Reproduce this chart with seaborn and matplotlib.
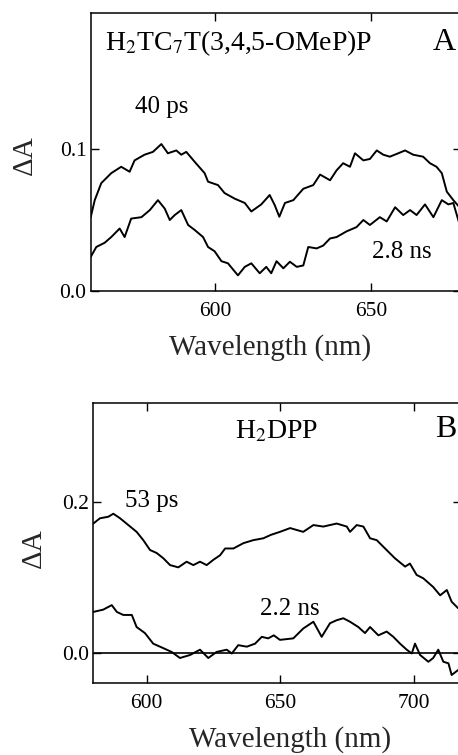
import pandas as pd
import matplotlib
matplotlib.use('Agg')
import matplotlib.pyplot as plt
import seaborn as sns

# Panel A: H2TC7T(3,4,5-OMeP)P, 40 ps and 2.8 ns spectra
wl_a_40ps = [560, 561.3, 563.4, 566.6, 569.8, 572.5, 574.1, 577.3, 580, 582.7,
             584.8, 587.5, 589.1, 590.7, 593.4, 596.6, 597.7, 600.9, 603, 606.3,
             609.5, 611.6, 614.8, 617.5, 619.1, 620.6, 622.4, 625.1, 628.3, 631.5,
             633.7, 636.9, 639, 641.1, 643.3, 644.9, 647.6, 649.7, 651.9, 654,
             656.1, 658.8, 661, 663.6, 666.8, 669, 671.1, 672.8, 674.4, 676.5, 678.5]
da_a_40ps = [0.052, 0.064, 0.076, 0.083, 0.0875, 0.084, 0.092, 0.096, 0.098, 0.1035,
             0.097, 0.099, 0.096, 0.098, 0.091, 0.083, 0.077, 0.0746, 0.069, 0.065,
             0.062, 0.056, 0.061, 0.0676, 0.0606, 0.0523, 0.062, 0.064, 0.072, 0.0746,
             0.082, 0.078, 0.085, 0.090, 0.0875, 0.097, 0.092, 0.093, 0.099, 0.096,
             0.0946, 0.097, 0.099, 0.096, 0.0946, 0.090, 0.0875, 0.083, 0.070, 0.064, 0.059]

wl_a_28ns = [560, 561.8, 564.5, 566.6, 569.3, 570.9, 573, 576.3, 579, 581.6,
             583.8, 585.4, 587, 589.1, 591.3, 593.4, 596.1, 597.7, 599.8, 602,
             604.1, 607.3, 609.5, 611.6, 614.3, 616.4, 618, 619.7, 621.9, 624,
             626.2, 628.3, 629.9, 632.6, 634.7, 636.9, 639, 642.2, 645.4, 647.6,
             649.7, 652.9, 655.1, 657.8, 660.4, 662.6, 664.7, 667.4, 670.1, 672.8,
             674.9, 676.5, 678.5]
da_a_28ns = [0.024, 0.031, 0.034, 0.038, 0.044, 0.038, 0.051, 0.052, 0.057, 0.064,
             0.058, 0.050, 0.0535, 0.057, 0.0465, 0.043, 0.038, 0.031, 0.028, 0.021,
             0.0195, 0.011, 0.017, 0.0195, 0.0125, 0.017, 0.0125, 0.021, 0.016, 0.0206,
             0.017, 0.018, 0.031, 0.030, 0.032, 0.037, 0.038, 0.042, 0.045, 0.050,
             0.0465, 0.052, 0.049, 0.059, 0.0535, 0.057, 0.0535, 0.061, 0.052, 0.064,
             0.061, 0.062, 0.047]

# Panel B: H2DPP, 53 ps and 2.2 ns spectra
wl_b_53ps = [580, 582.5, 585.6, 587.5, 590, 593.1, 596.2, 598.7, 601.2, 603.7,
             606.2, 608.7, 611.8, 614.9, 617.4, 619.9, 622.4, 624.9, 627.4, 629.3,
             632.4, 636.1, 639.8, 643.6, 646.4, 649.8, 653.6, 658.5, 662.3, 666,
             671, 674.8, 676, 678.5, 681, 683.5, 686, 689.1, 692.8, 696.6,
             698.4, 700.9, 703.4, 707.1, 709.7, 712.2, 714, 716.4, 718]
da_b_53ps = [0.171, 0.178, 0.180, 0.184, 0.178, 0.169, 0.160, 0.149, 0.136, 0.132,
             0.125, 0.116, 0.113, 0.1205, 0.116, 0.1205, 0.116, 0.123, 0.129, 0.138,
             0.138, 0.145, 0.149, 0.1515, 0.156, 0.160, 0.165, 0.160, 0.169, 0.167,
             0.171, 0.167, 0.160, 0.169, 0.167, 0.1515, 0.149, 0.138, 0.125, 0.114,
             0.118, 0.103, 0.0985, 0.087, 0.076, 0.083, 0.0675, 0.059, 0.056]

wl_b_22ns = [580, 583.7, 586.9, 588.8, 591.2, 594.4, 596.2, 599.3, 602.4, 606.2,
             609.3, 612.4, 616.2, 619.9, 623, 626.1, 629.9, 631.8, 634.2, 637.4,
             640.5, 643, 645.4, 647.5, 649.8, 654.8, 658.5, 662.3, 665.4, 668.5,
             671, 673.5, 676, 679.1, 681.6, 683.5, 686.6, 689.7, 692.2, 694.7,
             697.2, 699.1, 700.3, 702.2, 705.3, 707.1, 709, 710.9, 712.8, 714, 716.4, 718]
da_b_22ns = [0.054, 0.057, 0.063, 0.054, 0.050, 0.050, 0.034, 0.026, 0.012, 0.006,
             0.001, -0.007, -0.003, 0.004, -0.007, 0.001, 0.004, -0.001, 0.010, 0.008,
             0.012, 0.021, 0.019, 0.023, 0.017, 0.019, 0.032, 0.041, 0.021, 0.039,
             0.043, 0.0456, 0.041, 0.034, 0.026, 0.034, 0.023, 0.028, 0.021, 0.012,
             0.004, -0.001, 0.012, -0.003, -0.012, -0.007, 0.004, -0.012, -0.014, -0.0295, -0.023, -0.02]

sns.set_style('ticks')
plt.rcParams['font.family'] = ['Liberation Serif', 'DejaVu Serif']
plt.rcParams['mathtext.fontset'] = 'stix'
plt.rcParams['text.color'] = 'black'
plt.rcParams['xtick.color'] = 'black'
plt.rcParams['ytick.color'] = 'black'

W, H = 458, 755
fig = plt.figure(figsize=(W / 100, H / 100), dpi=100)


def add_ax(left, top, width, height):
    return fig.add_axes([left / W, 1 - (top + height) / H, width / W, height / H])


ax_a = add_ax(90.7, 13.3, 370.4, 277.7)
ax_b = add_ax(93.3, 402.7, 367.7, 280.6)

df_a = pd.concat([
    pd.DataFrame({'wl': wl_a_40ps, 'dA': da_a_40ps, 'delay': '40 ps'}),
    pd.DataFrame({'wl': wl_a_28ns, 'dA': da_a_28ns, 'delay': '2.8 ns'}),
])
df_b = pd.concat([
    pd.DataFrame({'wl': wl_b_53ps, 'dA': da_b_53ps, 'delay': '53 ps'}),
    pd.DataFrame({'wl': wl_b_22ns, 'dA': da_b_22ns, 'delay': '2.2 ns'}),
])

sns.lineplot(data=df_a, x='wl', y='dA', units='delay', estimator=None,
             color='black', linewidth=1.4, ax=ax_a, legend=False)
sns.lineplot(data=df_b, x='wl', y='dA', units='delay', estimator=None,
             color='black', linewidth=1.4, ax=ax_b, legend=False)
ax_b.axhline(0, color='black', linewidth=1.2)

ax_a.set_xlim(560, 679)
ax_a.set_ylim(0, 0.1956)
ax_a.set_xticks([600, 650])
ax_a.set_yticks([0.0, 0.1])
ax_a.set_yticklabels(['0.0', '0.1'])

ax_b.set_xlim(580, 717.5)
ax_b.set_ylim(-0.0405, 0.331)
ax_b.set_xticks([600, 650, 700])
ax_b.set_yticks([0.0, 0.2])
ax_b.set_yticklabels(['0.0', '0.2'])

for ax in (ax_a, ax_b):
    ax.set_xlabel('')
    ax.tick_params(direction='in', length=6, width=1.0, top=True, right=True,
                   labelsize=15.5)
    ax.tick_params(axis='x', pad=8)
    ax.tick_params(axis='y', pad=3)
    for s in ax.spines.values():
        s.set_linewidth(1.1)
        s.set_color('black')

ax_a.set_xlabel('Wavelength (nm)', fontsize=21, va='baseline')
ax_a.xaxis.set_label_coords(0.484, -0.23)
ax_a.set_ylabel('ΔA', fontsize=21, va='center')
ax_a.yaxis.set_label_coords(-0.177, 0.49)

ax_b.set_xlabel('Wavelength (nm)', fontsize=21, va='baseline')
ax_b.xaxis.set_label_coords(0.535, -0.227)
ax_b.set_ylabel('ΔA', fontsize=21, va='center')
ax_b.yaxis.set_label_coords(-0.161, 0.482)

ax_a.text(0.0386, 0.868, r'H$_2$TC$_7$T(3,4,5-OMeP)P', fontsize=20,
          transform=ax_a.transAxes, va='baseline')
ax_a.text(0.924, 0.868, 'A', fontsize=23, transform=ax_a.transAxes, va='baseline')
ax_a.text(0.12, 0.641, '40 ps', fontsize=18, transform=ax_a.transAxes, va='baseline')
ax_a.text(0.759, 0.119, '2.8 ns', fontsize=18, transform=ax_a.transAxes, va='baseline')

ax_b.text(0.385, 0.874, r'H$_2$DPP', fontsize=20, transform=ax_b.transAxes, va='baseline')
ax_b.text(0.929, 0.879, 'B', fontsize=23, transform=ax_b.transAxes, va='baseline')
ax_b.text(0.0865, 0.629, '53 ps', fontsize=18, transform=ax_b.transAxes, va='baseline')
ax_b.text(0.453, 0.243, '2.2 ns', fontsize=18, transform=ax_b.transAxes, va='baseline')

fig.savefig('out.png', dpi=100)
